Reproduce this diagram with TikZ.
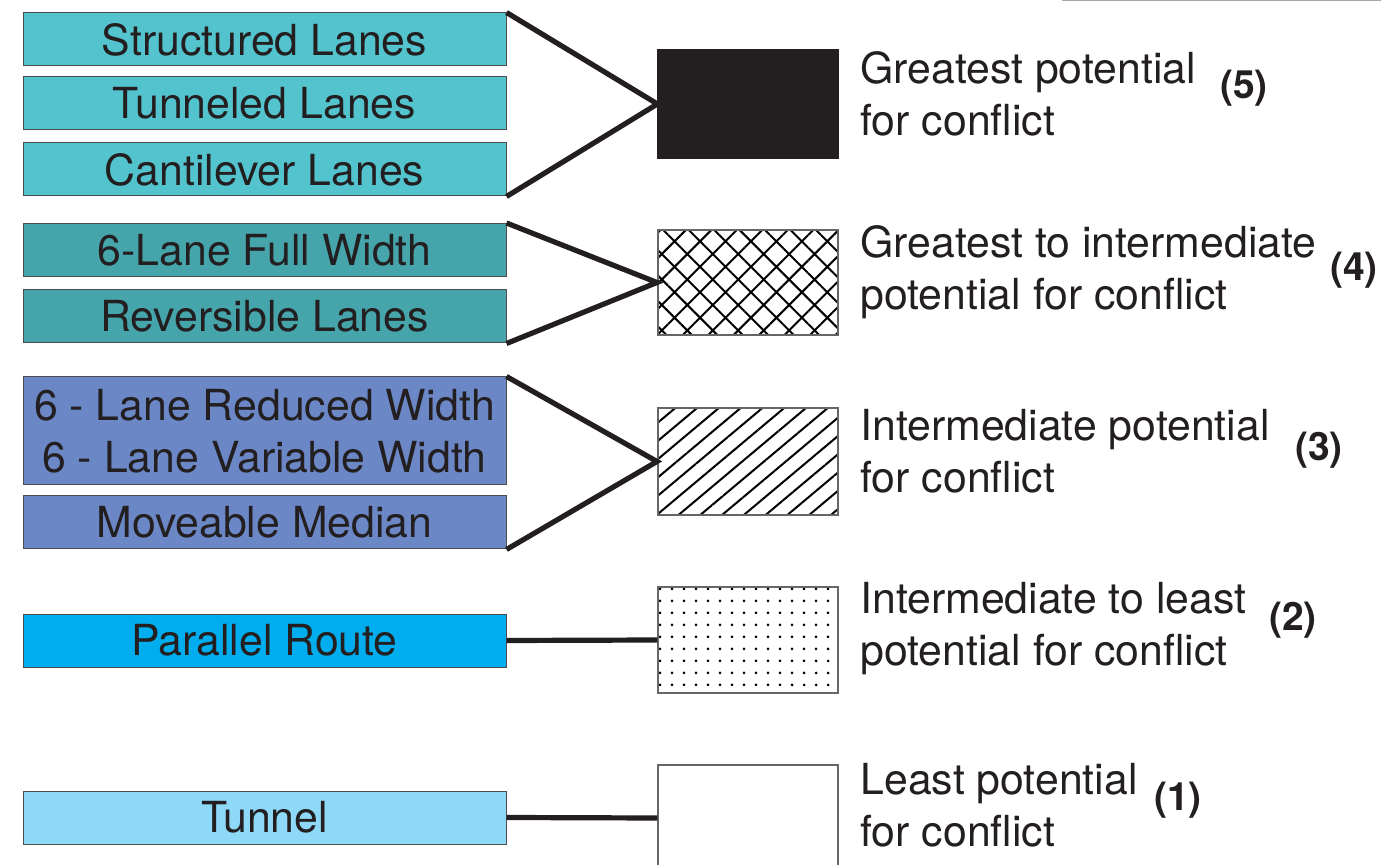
\documentclass[tikz,border=0pt]{standalone}
\usepackage{fontspec}
\setmainfont{TeX Gyre Heros}
\usepackage{tikz}
\usetikzlibrary{patterns.meta}

\definecolor{inkdark}{HTML}{231F20}
\definecolor{tealA}{HTML}{53C4CE}
\definecolor{tealB}{HTML}{45A5AB}
\definecolor{blueC}{HTML}{6B87C6}
\definecolor{blueD}{HTML}{00AEEF}
\definecolor{blueE}{HTML}{8ED8F8}

\begin{document}
\begin{tikzpicture}[x=0.5pt, y=-0.5pt,
            lanebox/.style = {shape=rectangle, draw=black!70, line width=0.5pt,
                              minimum width=241.5pt, minimum height=26.5pt,
                              inner sep=0pt, align=center, text=inkdark,
                              font=\fontsize{21.4}{26}\selectfont},
            levelbox/.style = {shape=rectangle, draw=black!60, line width=0.6pt,
                               minimum width=90pt, inner sep=0pt},
            desc/.style = {anchor=west, align=left, inner sep=0pt, text=inkdark,
                           font=\fontsize{21.4}{26}\selectfont},
            rank/.style = {inner sep=0pt, text=inkdark,
                           font=\fontsize{19.5}{22}\selectfont\bfseries},
            link/.style = {line width=2.6pt, draw=inkdark}]
  \useasboundingbox (0,0) rectangle (1381,865);
  \draw[black!35, line width=1pt] (1062,0.5) -- (1381,0.5);

  % lane options
  \node[lanebox, fill=tealA] (sl) at (264.5,39.5) {Structured Lanes};
  \node[lanebox, fill=tealA] (tl) at (264.5,103.5) {Tunneled Lanes};
  \node[lanebox, fill=tealA] (cl) at (264.5,169.5) {Cantilever Lanes};
  \node[lanebox, fill=tealB] (fw) at (264.5,250) {6-Lane Full Width};
  \node[lanebox, fill=tealB] (rl) at (264.5,316.5) {Reversible Lanes};
  \node[lanebox, fill=blueC, minimum height=54pt] (vw) at (264.5,431)
        {6 - Lane Reduced Width\\6 - Lane Variable Width};
  \node[lanebox, fill=blueC] (mm) at (264.5,522.5) {Moveable Median};
  \node[lanebox, fill=blueD] (pr) at (264.5,640.5) {Parallel Route};
  \node[lanebox, fill=blueE] (tn) at (264.5,817.5) {Tunnel};

  % conflict levels
  \node[levelbox, fill=inkdark, draw=inkdark, minimum height=54pt] (g5) at (748,104) {};
  \node[levelbox, minimum height=52.5pt,
        pattern={Hatch[angle=45, distance=9pt, line width=1pt]}] (g4) at (748,282.5) {};
  \node[levelbox, minimum height=53.5pt,
        pattern={Lines[angle=40, distance=7pt, line width=1pt]}] (g3) at (748,461.5) {};
  \node[levelbox, minimum height=53pt,
        pattern={Dots[distance=6pt, radius=0.75pt]}] (g2) at (748,640) {};
  \node[levelbox, fill=white, minimum height=53pt] (g1) at (748,818) {};

  \draw[link] (sl.north east) -- (g5.west) -- (cl.south east);
  \draw[link] (fw.north east) -- (g4.west) -- (rl.south east);
  \draw[link] (vw.north east) -- (g3.west) -- (mm.south east);
  \draw[link] (pr.east) -- (g2.west);
  \draw[link] (tn.east) -- (g1.west);

  % descriptions
  \node[desc] (d5) at (860,94) {Greatest potential\\for conflict};
  \node[desc] (d4) at (860,272.5) {Greatest to intermediate\\potential for conflict};
  \node[desc] (d3) at (860,451) {Intermediate potential\\for conflict};
  \node[desc] (d2) at (860,629) {Intermediate to least\\potential for conflict};
  \node[desc] (d1) at (860,805.5) {Least potential\\for conflict};

  \node[rank] (r5) at (1244,88) {(5)};
  \node[rank] (r4) at (1354,270) {(4)};
  \node[rank] (r3) at (1319,450) {(3)};
  \node[rank] (r2) at (1293,620) {(2)};
  \node[rank] (r1) at (1178,800) {(1)};
\end{tikzpicture}
\end{document}
